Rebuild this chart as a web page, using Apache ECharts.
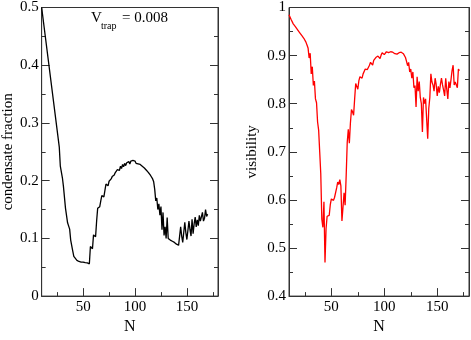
<!DOCTYPE html>
<html>
<head>
<meta charset="utf-8">
<script src="https://cdn.jsdelivr.net/npm/echarts@6/dist/echarts.min.js"></script>
<style>
html,body{margin:0;padding:0;background:#fff;}
#chart{width:471px;height:340px;}
</style>
</head>
<body>
<div id="chart"></div>
<script>
// ---- data ----
var condN = [10,27,28,29,30,31,32,33,34,35,36,37,38,39,40,41,42,44,46,48,50,52,54,55,56,
  57,58,59,60,61,62,63,64,65,66,67,68,69,70,71,72,73,74,75,76,77,78,79,80,
  81,82,83,84,85,86,87,88,89,90,91,92,93,94,95,96,97,98,99,100,
  101,102,103,104,105,106,107,108,109,110,111,112,113,114,115,116,117,118,119,120,
  121,122,123,124,125,126,127,128,129,130,131,132,133,134,135,136,137,138,139,140,
  141,142,143,144,145,146,147,148,149,150,151,152,153,154,155,156,157,158,159,160,
  161,162,163,164,165,166,167,168,169,170];
var condFrac = [0.500,0.258,0.225,0.228,0.205,0.190,0.193,0.152,0.150,0.127,0.130,0.116,0.097,0.100,0.078,0.069,0.066,0.062,0.060,0.059,0.059,0.058,0.0575,0.057,0.056,
  0.086,0.084,0.082,0.106,0.104,0.103,0.130,0.152,0.155,0.155,0.165,0.174,0.173,0.172,0.183,0.194,0.192,0.191,0.199,0.198,0.203,0.207,0.205,0.210,
  0.214,0.211,0.219,0.222,0.218,0.225,0.221,0.228,0.224,0.230,0.226,0.231,0.228,0.233,0.229,0.234,0.231,0.235,0.232,0.234,
  0.230,0.232,0.229,0.230,0.228,0.227,0.225,0.224,0.222,0.220,0.218,0.216,0.214,0.212,0.209,0.206,0.203,0.198,0.185,0.165,
  0.170,0.150,0.160,0.140,0.155,0.115,0.145,0.105,0.120,0.100,0.136,0.100,0.098,0.097,0.096,0.095,0.094,0.093,0.092,0.090,
  0.089,0.088,0.087,0.120,0.104,0.093,0.095,0.128,0.110,0.098,0.095,0.130,0.115,0.104,0.133,0.108,0.125,0.137,0.120,0.132,
  0.122,0.140,0.130,0.127,0.145,0.130,0.135,0.150,0.138,0.142];

var visN = [10,12,14,16,18,20,22,24,26,27,28,29,30,31,32,33,34,35,36,37,38,39,40,
  41,42,43,44,45,46,47,48,49,50,51,52,53,54,55,56,57,58,59,60,
  61,62,63,64,65,66,67,68,69,70,71,72,73,74,75,76,77,78,79,80,
  81,82,83,84,85,86,87,88,89,90,91,92,93,94,95,96,97,98,99,100,
  101,102,103,104,105,106,107,108,109,110,111,112,113,114,115,116,117,118,119,120,
  121,122,123,124,125,126,127,128,129,130,131,132,133,134,135,136,137,138,139,140,
  141,142,143,144,145,146,147,148,149,150,151,152,153,154,155,156,157,158,159,160,
  161,162,163,164,165,166,167,168,169,170,171];
var visibility = [0.985,0.975,0.966,0.960,0.954,0.948,0.942,0.936,0.928,0.922,0.916,0.895,0.905,0.862,0.877,0.838,0.847,0.810,0.802,0.762,0.745,0.700,0.655,
  0.560,0.543,0.596,0.470,0.540,0.566,0.566,0.568,0.590,0.602,0.600,0.599,0.605,0.609,0.625,0.637,0.632,0.642,0.629,0.556,
  0.585,0.615,0.589,0.650,0.720,0.747,0.718,0.760,0.788,0.783,0.776,0.810,0.842,0.838,0.830,0.848,0.856,0.855,0.853,0.862,
  0.866,0.872,0.876,0.871,0.868,0.880,0.886,0.883,0.880,0.890,0.892,0.896,0.893,0.899,0.896,0.894,0.901,0.906,0.904,0.902,
  0.905,0.908,0.907,0.906,0.904,0.908,0.908,0.907,0.906,0.904,0.902,0.903,0.905,0.906,0.907,0.907,0.905,0.904,0.902,0.896,
  0.888,0.879,0.886,0.866,0.872,0.853,0.866,0.833,0.838,0.793,0.856,0.826,0.846,0.813,0.800,0.741,0.813,0.800,0.810,0.813,
  0.727,0.790,0.813,0.862,0.845,0.839,0.826,0.853,0.840,0.816,0.836,0.823,0.840,0.853,0.839,0.828,0.816,0.853,0.830,0.810,
  0.846,0.833,0.850,0.869,0.880,0.839,0.845,0.843,0.833,0.872,0.869];

var xMajorTicks = [50,100,150];
var xMinorTicks = [25,75,125,175];
var titleParts = ['V','trap','= 0.008'];
var xName = 'N';
var leftYName = 'condensate fraction';
var rightYName = 'visibility';

// ---- build ----
function pairs(xs, ys){ return xs.map(function(x,i){ return [x, ys[i]]; }); }

var FONT = 'Liberation Serif';
var AX = '#333';

function xAxes(gridIndex){
  return [
    {type:'value', gridIndex:gridIndex, min:10, max:180, position:'bottom',
     name:xName, nameLocation:'middle', nameGap:16,
     nameTextStyle:{color:'#000', fontFamily:FONT, fontSize:16},
     axisLine:{show:true, lineStyle:{color:AX, width:1}},
     axisTick:{show:true, inside:true, length:8, customValues:xMajorTicks, lineStyle:{color:AX}},
     axisLabel:{show:true, customValues:xMajorTicks, margin:3, color:'#000', fontFamily:FONT, fontSize:15},
     splitLine:{show:false}},
    {type:'value', gridIndex:gridIndex, min:10, max:180, position:'bottom',
     axisLine:{show:false},
     axisTick:{show:true, inside:true, length:4, customValues:xMinorTicks, lineStyle:{color:AX}},
     axisLabel:{show:false},
     splitLine:{show:false}}
  ];
}
function yAxes(gridIndex, min, max, name, gap){
  return [
    {type:'value', gridIndex:gridIndex, min:min, max:max, interval:0.1, position:'left',
     name:name, nameLocation:'middle', nameGap:gap,
     nameTextStyle:{color:'#000', fontFamily:FONT, fontSize:15},
     axisLine:{show:true, lineStyle:{color:AX}},
     axisTick:{show:true, inside:true, length:8, lineStyle:{color:AX}},
     minorTick:{show:true, splitNumber:2, length:4, lineStyle:{color:AX}},
     axisLabel:{show:true, margin:3, color:'#000', fontFamily:FONT, fontSize:15},
     splitLine:{show:false}},
    {type:'value', gridIndex:gridIndex, min:min, max:max, interval:0.1, position:'right',
     axisLine:{show:true, lineStyle:{color:AX}},
     axisTick:{show:true, inside:true, length:8, lineStyle:{color:AX}},
     minorTick:{show:true, splitNumber:2, length:4, lineStyle:{color:AX}},
     axisLabel:{show:false},
     splitLine:{show:false}}
  ];
}

var chart = echarts.init(document.getElementById('chart'), null, {renderer:'canvas'});
chart.setOption({
  animation:false,
  backgroundColor:'#fff',
  grid:[
    {left:39, top:6, width:179, height:303, show:true, borderColor:AX, borderWidth:1, backgroundColor:'transparent'},
    {left:289, top:6, width:180, height:303, show:true, borderColor:AX, borderWidth:1, backgroundColor:'transparent'}
  ],
  xAxis: xAxes(0).concat(xAxes(1)),
  yAxis: yAxes(0, 0, 0.5, leftYName, 24).concat(yAxes(1, 0.4, 1, rightYName, 29)),
  series:[
    {type:'line', xAxisIndex:0, yAxisIndex:0, data:pairs(condN, condFrac), showSymbol:false,
     lineStyle:{color:'#000', width:1.3}, itemStyle:{color:'#000'}},
    {type:'line', xAxisIndex:2, yAxisIndex:2, data:pairs(visN, visibility), showSymbol:false,
     lineStyle:{color:'#ff0000', width:1.3}, itemStyle:{color:'#ff0000'}}
  ],
  graphic:[
    {type:'text', left:91, top:11, style:{text:titleParts[0], fill:'#000', font:'15px "Liberation Serif"'}},
    {type:'text', left:101, top:21, style:{text:titleParts[1], fill:'#000', font:'10px "Liberation Serif"'}},
    {type:'text', left:122, top:11, style:{text:titleParts[2], fill:'#000', font:'15px "Liberation Serif"'}}
  ]
});
</script>
</body>
</html>
